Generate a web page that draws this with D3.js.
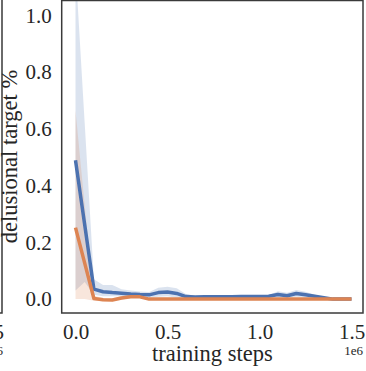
<!DOCTYPE html>
<html>
<head>
<meta charset="utf-8">
<script src="https://cdn.jsdelivr.net/npm/d3@7"></script>
<style>
  body { margin: 0; background: #fff; }
  svg { display: block; font-family: "Liberation Serif", "DejaVu Serif", serif; }
</style>
</head>
<body>
<div id="chart"></div>
<script>
// training steps, in units of 1e6
const steps = [0, 0.05, 0.1, 0.15, 0.2, 0.25, 0.3, 0.35, 0.4, 0.45, 0.5, 0.55, 0.6, 0.65, 0.7, 0.75,
  0.8, 0.85, 0.9, 0.95, 1.0, 1.05, 1.1, 1.15, 1.2, 1.25, 1.3, 1.35, 1.4, 1.45, 1.5];

const blueMean = [0.49, 0.262, 0.035, 0.026, 0.023, 0.021, 0.018, 0.016, 0.015, 0.023, 0.025, 0.02, 0.009, 0.007, 0.008, 0.008,
  0.008, 0.008, 0.009, 0.009, 0.009, 0.01, 0.016, 0.012, 0.02, 0.015, 0.01, 0.005, 0.0, 0.0, 0.0];
const blueHigh = [1.17, 0.62, 0.07, 0.05, 0.05, 0.035, 0.03, 0.027, 0.025, 0.04, 0.044, 0.038, 0.018, 0.012, 0.012, 0.012,
  0.012, 0.012, 0.013, 0.013, 0.013, 0.014, 0.028, 0.022, 0.032, 0.026, 0.015, 0.008, 0.0, 0.0, 0.0];
const blueLow = [0.03, 0.06, 0.015, 0.01, 0.01, 0.01, 0.008, 0.006, 0.005, 0.008, 0.01, 0.005, 0.002, 0.004, 0.004, 0.004,
  0.004, 0.004, 0.005, 0.005, 0.005, 0.006, 0.006, 0.004, 0.008, 0.005, 0.004, 0.002, 0.0, 0.0, 0.0];

const orangeMean = [0.252, 0.127, 0.002, -0.002, -0.003, 0.004, 0.008, 0.008, 0.0, 0.0, 0.0, 0.0, 0.0, 0.0, 0.0, 0.0,
  0.0, 0.0, 0.0, 0.0, 0.0, 0.0, 0.0, 0.0, 0.0, 0.0, 0.0, 0.0, 0.0, 0.0, 0.0];
const orangeHigh = [0.665, 0.33, 0.012, 0.004, 0.002, 0.01, 0.012, 0.012, 0.003, 0.001, 0.001, 0.001, 0.001, 0.001, 0.001, 0.001,
  0.001, 0.001, 0.001, 0.001, 0.001, 0.001, 0.001, 0.001, 0.001, 0.001, 0.001, 0.001, 0.001, 0.001, 0.001];
const orangeLow = [0.0, 0.0, -0.006, -0.008, -0.008, -0.002, 0.004, 0.004, -0.003, -0.001, -0.001, -0.001, -0.001, -0.001, -0.001, -0.001,
  -0.001, -0.001, -0.001, -0.001, -0.001, -0.001, -0.001, -0.001, -0.001, -0.001, -0.001, -0.001, -0.001, -0.001, -0.001];

const xTicks = [0, 0.5, 1.0, 1.5];
const yTicks = [0, 0.2, 0.4, 0.6, 0.8, 1.0];

const width = 366, height = 371;
const plot = {left: 61.7, right: 363, top: 0.5, bottom: 313};

const svg = d3.select("#chart").append("svg")
  .attr("width", width)
  .attr("height", height);

const x = d3.scaleLinear().domain([-0.075, 1.5625]).range([plot.left, plot.right]);
const y = d3.scaleLinear().domain([-0.049, 1.053]).range([plot.bottom, plot.top]);

// neighbouring panel, cut off at the left edge
svg.append("path")
  .attr("d", "M2,0 V" + plot.bottom + " H-5")
  .attr("fill", "none").attr("stroke", "#3a3a3a").attr("stroke-width", 1.5);
svg.append("text").attr("x", 4).attr("y", 339).attr("text-anchor", "end")
  .attr("font-size", 21).attr("fill", "#262626").text("1.5");
svg.append("text").attr("x", 3).attr("y", 355).attr("text-anchor", "end")
  .attr("font-size", 13).attr("fill", "#262626").text("1e6");

svg.append("clipPath").attr("id", "clip")
  .append("rect")
  .attr("x", plot.left).attr("y", plot.top)
  .attr("width", plot.right - plot.left).attr("height", plot.bottom - plot.top);

const g = svg.append("g").attr("clip-path", "url(#clip)");

const series = [
  {mean: blueMean, low: blueLow, high: blueHigh, color: "#4c72b0"},
  {mean: orangeMean, low: orangeLow, high: orangeHigh, color: "#dd8452"}
];

const band = d3.area()
  .x((d, i) => x(steps[i]))
  .y0(d => y(d[0]))
  .y1(d => y(d[1]));

const line = d3.line()
  .x((d, i) => x(steps[i]))
  .y(d => y(d));

series.forEach(s => {
  g.append("path")
    .datum(s.low.map((v, i) => [v, s.high[i]]))
    .attr("d", band)
    .attr("fill", s.color)
    .attr("fill-opacity", 0.2);
});

series.forEach(s => {
  g.append("path")
    .datum(s.mean)
    .attr("d", line)
    .attr("fill", "none")
    .attr("stroke", s.color)
    .attr("stroke-width", 3.5)
    .attr("stroke-linejoin", "round");
});

// frame
svg.append("rect")
  .attr("x", plot.left).attr("y", plot.top)
  .attr("width", plot.right - plot.left).attr("height", plot.bottom - plot.top)
  .attr("fill", "none").attr("stroke", "#3a3a3a").attr("stroke-width", 1.5);

const xAxis = svg.append("g")
  .attr("transform", "translate(0," + plot.bottom + ")")
  .call(d3.axisBottom(x).tickValues(xTicks).tickFormat(d3.format(".1f")).tickSize(0).tickPadding(11));
const yAxis = svg.append("g")
  .attr("transform", "translate(" + plot.left + ",0)")
  .call(d3.axisLeft(y).tickValues(yTicks).tickFormat(d3.format(".1f")).tickSize(0).tickPadding(10));

[xAxis, yAxis].forEach(a => {
  a.select(".domain").remove();
  a.selectAll("text")
    .attr("font-family", "Liberation Serif, DejaVu Serif, serif")
    .attr("font-size", 21)
    .attr("fill", "#262626");
});

svg.append("text")
  .attr("x", (plot.left + plot.right) / 2).attr("y", 361)
  .attr("text-anchor", "middle")
  .attr("font-size", 22.5).attr("fill", "#262626")
  .text("training steps");

svg.append("text")
  .attr("x", plot.right).attr("y", 355)
  .attr("text-anchor", "end")
  .attr("font-size", 13).attr("fill", "#262626")
  .text("1e6");

svg.append("text")
  .attr("transform", "translate(17," + (plot.bottom / 2) + ") rotate(-90)")
  .attr("text-anchor", "middle")
  .attr("font-size", 22.5).attr("fill", "#262626")
  .text("delusional target %");
</script>
</body>
</html>
